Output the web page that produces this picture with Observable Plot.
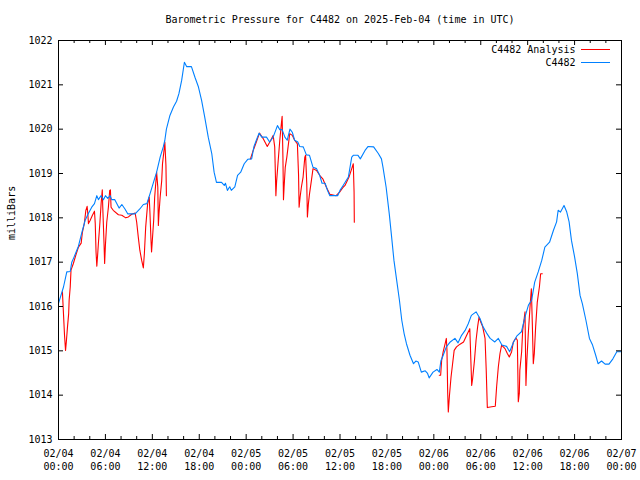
<!DOCTYPE html>
<html><head><meta charset="utf-8">
<script src="https://cdn.jsdelivr.net/npm/d3@7"></script>
<script src="https://cdn.jsdelivr.net/npm/@observablehq/plot@0.6"></script>
<style>html,body{margin:0;padding:0;background:#fff;} #chart{width:640px;height:480px;position:relative;}</style>
</head><body><div id="chart"></div>
<script>
const title = "Barometric Pressure for C4482 on 2025-Feb-04 (time in UTC)";
const yLabel = "milliBars";
const seriesNames = ["C4482 Analysis", "C4482"];
const seriesColors = ["#ff0000", "#0080ff"];
const yTicks = [1013, 1014, 1015, 1016, 1017, 1018, 1019, 1020, 1021, 1022];
const startUTC = Date.UTC(2025, 1, 4, 0, 0);
const majorTickHours = [0, 6, 12, 18, 24, 30, 36, 42, 48, 54, 60, 66, 72];
const minorTickHours = [2, 4, 8, 10, 14, 16, 20, 22, 26, 28, 32, 34, 38, 40, 44, 46, 50, 52, 56, 58, 62, 64, 68, 70];

// Station C4482 (hours since 02/04 00:00 UTC, pressure mb)
const stationHours = [0.0,0.64,1.06,1.5,1.7,2.0,2.55,3.0,3.4,3.8,4.25,4.6,4.9,5.1,5.45,5.75,6.0,6.3,6.6,6.8,7.2,7.75,8.1,8.5,8.85,9.8,10.4,10.85,11.3,11.7,12.1,12.55,13.0,13.4,13.6,13.8,14.25,14.7,15.1,15.4,15.75,16.1,16.4,17.0,17.45,17.9,18.3,18.7,19.15,19.6,19.9,20.2,20.85,21.2,21.35,21.6,21.9,22.1,22.55,22.9,23.3,23.75,24.2,24.7,25.0,25.3,25.65,26.0,26.6,27.0,27.45,28.0,28.3,28.6,28.95,29.25,29.6,29.9,30.2,30.6,30.85,31.3,31.7,32.1,32.55,33.0,33.4,33.7,34.1,34.4,34.7,35.7,36.0,36.4,37.07,37.5,37.7,38.3,38.6,39.2,39.6,40.3,40.9,41.3,41.5,41.9,42.3,42.6,42.9,43.25,43.6,43.9,44.2,44.5,44.95,45.4,45.7,46.0,46.4,46.9,47.2,47.4,47.9,48.4,48.7,48.9,49.2,49.6,50.1,50.7,51.1,51.55,52.0,52.4,52.8,53.4,53.9,54.3,54.75,55.2,55.8,56.25,56.7,57.3,57.7,58.2,58.6,59.2,59.65,60.1,60.5,60.9,61.35,61.8,62.2,62.8,63.3,63.7,63.9,64.2,64.65,65.0,65.3,65.6,66.0,66.35,66.7,67.0,67.45,67.9,68.3,68.7,69.0,69.45,69.9,70.4,70.9,71.4,72.0];
const stationPressure = [1016.07,1016.44,1016.78,1016.79,1017.0,1017.12,1017.36,1017.68,1017.94,1018.09,1018.24,1018.32,1018.5,1018.41,1018.5,1018.41,1018.5,1018.44,1018.5,1018.41,1018.41,1018.22,1018.3,1018.2,1018.09,1018.09,1018.2,1018.3,1018.32,1018.54,1018.77,1019.03,1019.37,1019.6,1019.75,1020.0,1020.31,1020.5,1020.63,1020.8,1021.1,1021.51,1021.41,1021.41,1021.17,1020.95,1020.65,1020.27,1019.82,1019.45,1019.03,1018.8,1018.8,1018.73,1018.78,1018.62,1018.7,1018.62,1018.7,1018.96,1019.03,1019.22,1019.32,1019.33,1019.61,1019.75,1019.91,1019.82,1019.82,1019.71,1019.82,1020.08,1019.99,1019.99,1019.82,1019.75,1020.0,1019.93,1019.75,1019.71,1019.61,1019.6,1019.42,1019.41,1019.14,1019.11,1018.96,1018.78,1018.78,1018.62,1018.5,1018.5,1018.62,1018.73,1018.92,1019.37,1019.41,1019.41,1019.33,1019.52,1019.61,1019.6,1019.45,1019.33,1019.14,1018.69,1018.09,1017.57,1017.04,1016.59,1016.14,1015.69,1015.39,1015.16,1014.9,1014.71,1014.77,1014.75,1014.52,1014.55,1014.49,1014.39,1014.52,1014.58,1014.52,1014.77,1014.9,1015.09,1015.2,1015.28,1015.18,1015.35,1015.46,1015.61,1015.8,1015.88,1015.73,1015.54,1015.4,1015.28,1015.2,1015.28,1015.13,1015.1,1014.98,1015.2,1015.33,1015.43,1015.76,1016.03,1016.14,1016.55,1016.78,1017.04,1017.34,1017.45,1017.72,1017.91,1018.17,1018.13,1018.28,1018.13,1017.91,1017.49,1017.12,1016.74,1016.25,1016.06,1015.69,1015.28,1015.13,1014.9,1014.71,1014.77,1014.7,1014.7,1014.82,1014.98,1014.98];

// C4482 Analysis (null marks a gap)
const analysisHours = [0.5,0.77,0.9,1.0,1.15,1.3,1.36,1.5,1.6,1.9,2.2,2.55,2.9,3.06,3.3,3.5,3.66,3.75,3.83,4.04,4.34,4.6,4.7,4.8,4.9,5.0,5.1,5.3,5.45,5.6,5.66,5.75,5.83,5.9,6.0,6.17,6.38,6.55,6.64,6.72,7.0,7.66,8.1,8.6,8.94,9.36,9.8,10.0,10.2,10.4,10.64,10.85,10.98,11.15,11.4,11.6,11.7,11.83,11.9,12.0,12.17,12.3,12.55,12.7,12.77,12.85,13.0,13.2,13.3,13.45,13.6,13.74,13.8,
 19.0,
 24.55,24.9,25.3,25.7,26.2,26.7,27.15,27.45,27.65,27.75,27.8,27.9,28.1,28.3,28.5,28.6,28.7,28.77,28.85,29.0,29.2,29.36,29.57,29.9,30.2,30.55,30.7,30.77,30.9,31.06,31.28,31.5,31.6,31.75,31.83,31.96,32.1,32.34,32.55,33.0,33.4,33.8,34.26,34.7,35.5,35.95,36.4,36.64,37.15,37.5,37.7,37.8,37.83,
 43.0,
 48.7,48.87,49.0,49.2,49.47,49.6,49.68,49.77,49.85,50.0,50.2,50.4,50.6,50.9,51.35,51.8,52.2,52.6,52.75,52.84,52.96,53.2,53.4,53.6,53.78,54.0,54.25,54.55,54.7,54.84,55.4,55.86,56.03,56.25,56.46,56.67,57.1,57.4,57.65,57.95,58.17,58.5,58.68,58.8,58.93,59.0,59.23,59.36,59.53,59.66,59.78,59.9,60.08,60.3,60.47,60.6,60.72,60.85,61.02,61.23,61.5,61.66,61.87];
const analysisPressure = [1016.33,1015.35,1015.01,1015.2,1015.54,1015.84,1016.14,1016.44,1016.82,1016.97,1017.15,1017.34,1017.43,1017.68,1017.87,1018.17,1018.26,1018.09,1017.87,1017.94,1018.06,1018.15,1017.87,1017.23,1016.91,1017.15,1017.42,1017.9,1018.32,1018.63,1018.24,1017.79,1017.38,1016.97,1017.38,1017.9,1018.24,1018.62,1018.63,1018.24,1018.17,1018.07,1018.06,1018.0,1018.02,1018.08,1018.11,1017.9,1017.57,1017.27,1017.04,1016.87,1017.19,1017.79,1018.32,1018.47,1018.09,1017.49,1017.23,1017.49,1017.94,1018.47,1019.03,1018.69,1017.83,1018.09,1018.47,1018.84,1019.22,1019.45,1019.71,1019.18,1018.5,
 null,
 1019.33,1019.52,1019.71,1019.91,1019.78,1019.61,1019.75,1019.86,1019.6,1018.88,1018.5,1018.84,1019.3,1019.75,1020.12,1020.29,1019.37,1018.41,1018.69,1019.14,1019.37,1019.6,1019.9,1019.86,1019.75,1019.67,1018.96,1018.24,1018.47,1018.69,1018.92,1019.37,1019.41,1018.77,1018.02,1018.32,1018.54,1018.84,1019.11,1019.07,1018.96,1018.88,1018.69,1018.53,1018.5,1018.58,1018.69,1018.73,1018.92,1019.11,1019.22,1018.58,1017.9,
 null,
 1014.45,1014.45,1014.79,1014.98,1015.18,1015.28,1015.01,1014.07,1013.62,1014.0,1014.41,1014.71,1015.01,1015.09,1015.15,1015.2,1015.35,1015.5,1014.71,1014.22,1014.37,1014.79,1015.24,1015.54,1015.76,1015.65,1015.54,1015.28,1014.56,1013.72,1013.74,1013.75,1014.19,1014.64,1014.94,1015.13,1015.05,1014.94,1014.86,1014.98,1015.2,1015.29,1015.24,1013.85,1014.04,1014.56,1014.98,1015.46,1015.69,1015.88,1014.22,1014.79,1015.39,1015.99,1016.4,1015.58,1014.71,1014.94,1015.54,1016.1,1016.44,1016.74,1016.74];

const toDate = h => new Date(startUTC + h * 3600e3);
const station = stationHours.map((h, i) => ({t: toDate(h), v: stationPressure[i]}));
const analysis = analysisHours.map((h, i) => ({t: toDate(h), v: analysisPressure[i]}));
const majorTicks = majorTickHours.map(toDate);
const minorTicks = minorTickHours.map(toDate);
const fmtDay = d3.utcFormat("%m/%d"), fmtTime = d3.utcFormat("%H:%M");

const W = 640, H = 480, mL = 58, mR = 19, mT = 40, mB = 41;
const plotH = H - mT - mB, plotW = W - mL - mR;

const chart = Plot.plot({
  width: W, height: H,
  marginLeft: mL, marginRight: mR, marginTop: mT, marginBottom: mB,
  style: {fontFamily: "'DejaVu Sans Mono', 'Liberation Mono', monospace", fontSize: "10px", background: "#fff", color: "#000", overflow: "visible"},
  x: {type: "utc", domain: [toDate(0), toDate(72)], axis: null},
  y: {domain: [1013, 1022], axis: null},
  marks: [
    Plot.line(analysis, {x: "t", y: "v", stroke: seriesColors[0], strokeWidth: 1.1}),
    Plot.line(station, {x: "t", y: "v", stroke: seriesColors[1], strokeWidth: 1.1}),
    // inward ticks, bottom and top
    Plot.ruleX(majorTicks, {x: d => d, insetTop: plotH - 5, stroke: "#000"}),
    Plot.ruleX(majorTicks, {x: d => d, insetBottom: plotH - 5, stroke: "#000"}),
    Plot.ruleX(minorTicks, {x: d => d, insetTop: plotH - 3, stroke: "#000"}),
    Plot.ruleX(minorTicks, {x: d => d, insetBottom: plotH - 3, stroke: "#000"}),
    // inward ticks, left and right
    Plot.ruleY(yTicks, {y: d => d, insetRight: plotW - 5, stroke: "#000"}),
    Plot.ruleY(yTicks, {y: d => d, insetLeft: plotW - 5, stroke: "#000"}),
    Plot.frame({stroke: "#000"}),
    Plot.axisX(majorTicks, {tickSize: 0, tickPadding: 8, lineHeight: 1.3, tickFormat: d => fmtDay(d) + "\n" + fmtTime(d), label: null}),
    Plot.axisY(yTicks, {tickSize: 0, tickPadding: 6, tickFormat: d => String(d), label: null}),
    Plot.text([yLabel], {frameAnchor: "left", lineAnchor: "middle", rotate: -90, dx: -47}),
    Plot.text([title], {frameAnchor: "top", lineAnchor: "middle", dy: -21}),
    Plot.text([seriesNames[0]], {frameAnchor: "top-right", lineAnchor: "middle", textAnchor: "end", dx: -46, dy: 9.5}),
    Plot.text([seriesNames[1]], {frameAnchor: "top-right", lineAnchor: "middle", textAnchor: "end", dx: -46, dy: 22.5})
  ]
});
document.getElementById("chart").appendChild(chart);

// legend sample lines
const svg = d3.select(chart);
const legendX1 = W - mR - 40, legendX2 = W - mR - 11;
seriesColors.forEach((c, i) => {
  svg.append("line")
    .attr("x1", legendX1).attr("x2", legendX2)
    .attr("y1", mT + 9.5 + i * 13).attr("y2", mT + 9.5 + i * 13)
    .attr("stroke", c).attr("stroke-width", 1);
});
</script>
</body></html>
